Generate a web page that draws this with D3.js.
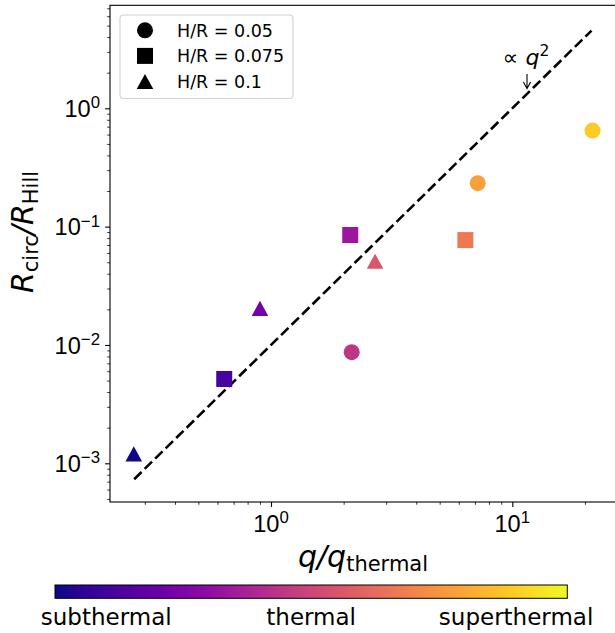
<!DOCTYPE html>
<html>
<head>
<meta charset="utf-8">
<script src="https://cdn.jsdelivr.net/npm/d3@7"></script>
<style>
  html, body { margin: 0; padding: 0; background: #fff; }
  svg { display: block; font-family: "DejaVu Sans", sans-serif; }
</style>
</head>
<body>
<div id="chart"></div>
<script>
// ---- data ----
const legendLabels = ["H/R = 0.05", "H/R = 0.075", "H/R = 0.1"];
const markerShapes = ["circle", "square", "triangle"];
// H/R = 0.05 (circles)
const qCircle = [2.16, 7.19, 21.5];
const rCircle = [0.0087, 0.233, 0.648];
// H/R = 0.075 (squares)
const qSquare = [0.64, 2.13, 6.39];
const rSquare = [0.00516, 0.085, 0.077];
// H/R = 0.1 (triangles)
const qTriangle = [0.27, 0.90, 2.70];
const rTriangle = [0.0012, 0.0204, 0.051];
// reference line  R ∝ q^2
const lineQ = [0.271, 21.3];
const lineR = [0.000734, 4.54];
// axes ticks
const xMajor = [1, 10];
const xMajorExp = ["0", "1"];
const xMinor = [0.3, 0.4, 0.5, 0.6, 0.7, 0.8, 0.9, 2, 3, 4, 5, 6, 7, 8, 9, 20];
const yMajor = [1e-3, 1e-2, 1e-1, 1];
const yMajorExp = ["\u22123", "\u22122", "\u22121", "0"];
const yMinor = [];
[1e-4, 1e-3, 1e-2, 1e-1, 1].forEach(d => { for (let k = 2; k <= 9; k++) yMinor.push(d * k); });
const cbarLabels = ["subthermal", "thermal", "superthermal"];
const cbarTickPos = [0.1, 0.5, 0.9];

// ---- layout ----
const W = 615, H = 633;
const L = 110, R = 616, T = 5.3, B = 502;

const svg = d3.select("#chart").append("svg").attr("width", W).attr("height", H);

const x = d3.scaleLog().domain([Math.pow(10, -0.6672), Math.pow(10, 1.4297)]).range([L, R]);
const y = d3.scaleLog().domain([Math.pow(10, -3.327), Math.pow(10, 0.8705)]).range([B, T]);
const yMinorIn = yMinor.filter(v => v >= y.domain()[0] && v <= y.domain()[1]);
const xMinorIn = xMinor.filter(v => v >= x.domain()[0] && v <= x.domain()[1]);

// points
const points = [];
qCircle.forEach((q, i) => points.push({ q, r: rCircle[i], shape: "circle" }));
qSquare.forEach((q, i) => points.push({ q, r: rSquare[i], shape: "square" }));
qTriangle.forEach((q, i) => points.push({ q, r: rTriangle[i], shape: "triangle" }));
const sorted = points.slice().sort((a, b) => a.q - b.q);
sorted.forEach((p, i) => p.rank = i);
const color = d3.scaleSequential(d3.interpolatePlasma).domain([0, 9]);

function shapePath(shape) {
  if (shape === "circle") return "M8,0A8,8 0 1,1 -8,0A8,8 0 1,1 8,0Z";
  if (shape === "square") return "M-8,-8H8V8H-8Z";
  return "M0,-7.6L8.3,7.6L-8.3,7.6Z";
}

// dashed line
svg.append("path")
  .attr("d", d3.line().x(d => x(d[0])).y(d => y(d[1]))(lineQ.map((q, i) => [q, lineR[i]])))
  .attr("fill", "none").attr("stroke", "#000").attr("stroke-width", 2.6)
  .attr("stroke-dasharray", "10.3,4.4");

// markers
svg.append("g").selectAll("path").data(points).join("path")
  .attr("transform", d => `translate(${x(d.q)},${y(d.r)})`)
  .attr("d", d => shapePath(d.shape))
  .attr("fill", d => color(d.rank));

// axes
const gx = svg.append("g").attr("transform", `translate(0,${B})`);
gx.call(d3.axisBottom(x).tickValues(xMinorIn).tickSize(2.8).tickFormat(""))
  .call(g => g.select(".domain").remove())
  .call(g => g.selectAll("line").attr("stroke-width", 0.8));
gx.append("g").call(d3.axisBottom(x).tickValues(xMajor).tickSize(4.9).tickFormat(""))
  .call(g => g.select(".domain").remove())
  .call(g => g.selectAll("line").attr("stroke-width", 1.1));
xMajor.forEach((v, i) => {
  const t = gx.append("text").attr("x", x(v)).attr("y", 30).attr("text-anchor", "middle")
    .attr("font-size", 23.6).attr("fill", "#000");
  t.append("tspan").text("10");
  t.append("tspan").attr("dy", -8.7).attr("font-size", 16.8).text(xMajorExp[i]);
});

const gy = svg.append("g").attr("transform", `translate(${L},0)`);
gy.call(d3.axisLeft(y).tickValues(yMinorIn).tickSize(2.8).tickFormat(""))
  .call(g => g.select(".domain").remove())
  .call(g => g.selectAll("line").attr("stroke-width", 0.8));
gy.append("g").call(d3.axisLeft(y).tickValues(yMajor).tickSize(4.9).tickFormat(""))
  .call(g => g.select(".domain").remove())
  .call(g => g.selectAll("line").attr("stroke-width", 1.1));
yMajor.forEach((v, i) => {
  const t = gy.append("text").attr("x", -10).attr("y", y(v) + 8.6).attr("text-anchor", "end")
    .attr("font-size", 23.6).attr("fill", "#000");
  t.append("tspan").text("10");
  t.append("tspan").attr("dy", -8.7).attr("font-size", 16.8).text(yMajorExp[i]);
});

// spines
svg.append("rect").attr("x", L).attr("y", T).attr("width", R - L).attr("height", B - T)
  .attr("fill", "none").attr("stroke", "#000").attr("stroke-width", 1.1);

// axis labels
const xl = svg.append("text").attr("x", (L + R) / 2).attr("y", 567).attr("text-anchor", "middle")
  .attr("font-size", 30).attr("fill", "#000");
xl.append("tspan").attr("font-style", "italic").text("q/q");
xl.append("tspan").attr("dy", 4).attr("font-size", 21).text("thermal");

const yl = svg.append("text").attr("transform", "translate(33,232) rotate(-90)")
  .attr("text-anchor", "middle").attr("font-size", 30).attr("fill", "#000");
yl.append("tspan").attr("font-style", "italic").text("R");
yl.append("tspan").attr("dy", 5).attr("font-size", 21).text("circ");
yl.append("tspan").attr("dy", -5).attr("font-style", "italic").text("/R");
yl.append("tspan").attr("dy", 5).attr("font-size", 21).text("Hill");

// annotation
const ann = svg.append("text").attr("x", 526).attr("y", 65).attr("text-anchor", "middle")
  .attr("font-size", 22).attr("fill", "#000");
ann.append("tspan").text("\u221D ");
ann.append("tspan").attr("font-style", "italic").text("q");
ann.append("tspan").attr("dy", -9).attr("font-size", 15.5).text("2");
const ax = 527, ay0 = 74, ay1 = 88.5;
svg.append("path").attr("d", `M${ax},${ay0}V${ay1}M${ax - 3.6},${ay1 - 6.5}L${ax},${ay1}L${ax + 3.6},${ay1 - 6.5}`)
  .attr("fill", "none").attr("stroke", "#000").attr("stroke-width", 1.1);

// legend
const lg = svg.append("g");
lg.append("rect").attr("x", 120).attr("y", 15).attr("width", 173).attr("height", 83.5)
  .attr("rx", 3.5).attr("fill", "#fff").attr("fill-opacity", 0.8)
  .attr("stroke", "#d0d0d0").attr("stroke-width", 1.1);
legendLabels.forEach((lab, i) => {
  const cy = 30.3 + i * 25.6;
  lg.append("path").attr("transform", `translate(145,${cy})`).attr("d", shapePath(markerShapes[i])).attr("fill", "#000");
  lg.append("text").attr("x", 177).attr("y", cy + 6.4).attr("font-size", 17.5).attr("fill", "#000").text(lab);
});

// colorbar
const cbL = 55, cbR = 567.3, cbT = 585, cbB = 598.3;
const defs = svg.append("defs");
const grad = defs.append("linearGradient").attr("id", "plasma").attr("x1", "0%").attr("x2", "100%");
d3.range(0, 1.0001, 0.05).forEach(t => grad.append("stop").attr("offset", (t * 100) + "%").attr("stop-color", d3.interpolatePlasma(t)));
svg.append("rect").attr("x", cbL).attr("y", cbT).attr("width", cbR - cbL).attr("height", cbB - cbT)
  .attr("fill", "url(#plasma)").attr("stroke", "#000").attr("stroke-width", 1);
const cb = d3.scaleLinear().domain([0, 1]).range([cbL, cbR]);
cbarLabels.forEach((lab, i) => {
  svg.append("text").attr("x", cb(cbarTickPos[i])).attr("y", 625).attr("text-anchor", "middle")
    .attr("font-size", 23).attr("fill", "#000").text(lab);
});
</script>
</body>
</html>
